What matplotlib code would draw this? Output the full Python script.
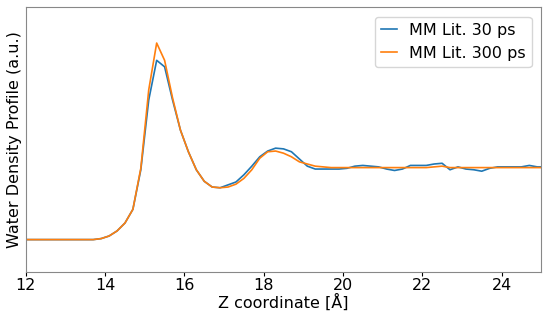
import numpy as np
import matplotlib
matplotlib.use("Agg")
import matplotlib.pyplot as plt

# z grid (Angstrom), 0.2 spacing
z = np.round(np.arange(11.9, 25.11, 0.2), 2)

lead = [0.0] * 10  # 11.9 .. 13.7

dens_30ps = lead + [
    0.014, 0.05, 0.12, 0.23, 0.42, 0.97, 1.94, 2.49, 2.40, 1.94,
    1.52, 1.22, 0.97, 0.81, 0.73, 0.72, 0.76, 0.80, 0.90, 1.02,
    1.15, 1.23, 1.27, 1.26, 1.22, 1.12, 1.02, 0.98, 0.98, 0.98,
    0.98, 0.99, 1.02, 1.03, 1.02, 1.01, 0.98, 0.96, 0.98, 1.03,
    1.03, 1.03, 1.05, 1.06, 0.97, 1.01, 0.98, 0.97, 0.95, 0.99,
    1.01, 1.01, 1.01, 1.01, 1.03, 1.01, 1.01,
]

dens_300ps = lead + [
    0.014, 0.05, 0.12, 0.23, 0.42, 0.99, 2.08, 2.73, 2.49, 1.97,
    1.52, 1.22, 0.97, 0.81, 0.73, 0.72, 0.73, 0.77, 0.85, 0.97,
    1.13, 1.22, 1.23, 1.20, 1.15, 1.08, 1.05, 1.02, 1.01, 1.00,
    1.00, 1.00, 1.00, 1.00, 1.00, 1.00, 1.00, 1.00, 1.00, 1.00,
    1.00, 1.00, 1.01, 1.02, 1.00, 1.00, 1.00, 1.00, 1.00, 1.00,
    1.00, 1.00, 1.00, 1.00, 1.00, 1.00, 1.00,
]

labels = ["MM Lit. 30 ps", "MM Lit. 300 ps"]
xticks = [12, 14, 16, 18, 20, 22, 24]

fs = 11.5

fig = plt.figure(figsize=(5.5, 3.2), dpi=100)
ax = fig.add_axes([0.047, 0.15, 0.937, 0.828])

ax.plot(z[:len(dens_30ps)], dens_30ps, color="#1f77b4", lw=1.2, label=labels[0])
ax.plot(z[:len(dens_300ps)], dens_300ps, color="#ff7f0e", lw=1.2, label=labels[1])

ax.set_xlim(12, 25)
ax.set_ylim(-0.45, 3.23)
ax.set_xticks(xticks)
ax.set_yticks([])
ax.tick_params(axis="x", labelsize=fs, length=3, pad=1.5)
ax.set_xlabel("Z coordinate [Å]", fontsize=fs, labelpad=0)
ax.set_ylabel("Water Density Profile (a.u.)", fontsize=fs, labelpad=3)

for s in ax.spines.values():
    s.set_color("#888888")

ax.legend(loc="upper right", fontsize=fs, handlelength=1.0, handletextpad=0.7,
          borderaxespad=0.6)

fig.savefig("out.png", dpi=100)
